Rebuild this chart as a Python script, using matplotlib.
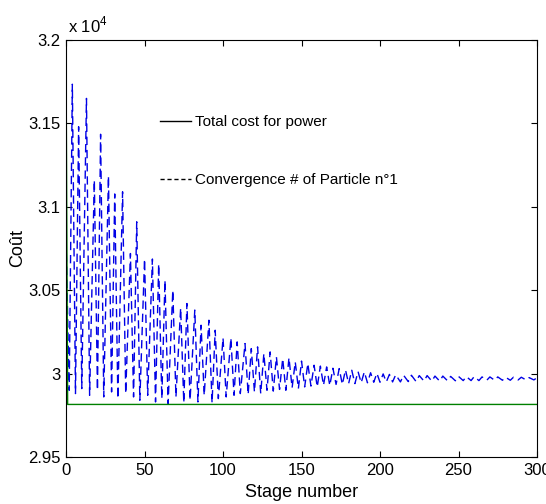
import matplotlib
matplotlib.use("Agg")
import matplotlib.pyplot as plt
from matplotlib.lines import Line2D

# data
# best cost found so far (green line)
best_stage = [0, 1, 300]
best_cost = [31850, 29815, 29815]

# zig-zag of particle n°1: local peaks / troughs (stage, cost)
particle_stage = [
    0, 2, 4, 6, 8, 10, 13, 15, 18, 20, 22, 24, 27, 29, 31, 33, 36, 38, 41, 43,
    45, 47, 50, 52, 55, 57, 59, 61, 63, 65, 68, 70, 73, 75, 77, 79, 82, 84, 86, 88,
    91, 93, 95, 97, 100, 102, 105, 107, 109, 111, 114, 116, 118, 120, 122, 124, 126, 128, 130, 132,
    134, 136, 138, 140, 142, 144, 146, 148, 150, 152, 154, 156, 158, 160, 162, 164, 166, 168, 170, 172,
    174, 176, 178, 180, 182, 184, 186, 188, 190, 192, 194, 196, 198, 200, 202, 204, 206, 208, 210, 213,
    215, 218, 220, 223, 225, 228, 230, 233, 235, 238, 240, 243, 245, 248, 250, 253, 255, 258, 260, 263,
    265, 268, 270, 273, 275, 278, 280, 283, 285, 288, 290, 293, 295, 298, 300,
]
particle_cost = [
    30800, 29900, 31735, 29880, 31480, 29910, 31650, 29870, 31160, 29900,
    31435, 29860, 31185, 29890, 31077, 29850, 31090, 29880, 30720, 29860,
    30910, 29840, 30687, 29870, 30687, 29830, 30657, 29850, 30560, 29820,
    30500, 29860, 30393, 29825, 30420, 29840, 30381, 29830, 30290, 29870,
    30320, 29825, 30260, 29850, 30213, 29860, 30213, 29870, 30190, 29880,
    30180, 29875, 30150, 29890, 30160, 29880, 30120, 29900, 30130, 29895,
    30100, 29905, 30090, 29900, 30095, 29915, 30070, 29910, 30075, 29920,
    30060, 29925, 30050, 29920, 30045, 29930, 30040, 29928, 30032, 29935,
    30030, 29935, 30022, 29940, 30020, 29940, 30012, 29945, 30010, 29945,
    30005, 29948, 30002, 29948, 29998, 29950, 29995, 29950, 29993, 29950,
    29990, 29952, 29990, 29952, 29988, 29955, 29988, 29955, 29985, 29955,
    29985, 29957, 29983, 29957, 29983, 29958, 29982, 29958, 29982, 29958,
    29980, 29960, 29980, 29960, 29980, 29960, 29978, 29960, 29978, 29962,
    29978, 29962, 29976, 29962, 29975,
]

y_ticks = [29500, 30000, 30500, 31000, 31500, 32000]
y_tick_labels = ["2.95", "3", "3.05", "3.1", "3.15", "3.2"]
x_ticks = [0, 50, 100, 150, 200, 250, 300]

plt.rcParams['font.family'] = 'Liberation Sans'
plt.rcParams['lines.scale_dashes'] = False
plt.rcParams['mathtext.fontset'] = 'custom'
plt.rcParams['mathtext.rm'] = 'Liberation Sans'

fig = plt.figure(figsize=(5.46, 5.04), dpi=100)
ax = fig.add_axes([0.121, 0.0933, 0.8625, 0.8273])

ax.plot(particle_stage, particle_cost, color=(0, 0, 0.9), lw=1.0, dashes=(6, 3.5))
ax.plot(best_stage, best_cost, color=(0, 0.5, 0), lw=1.0)

ax.set_xlim(0, 300)
ax.set_ylim(29500, 32000)
ax.set_xticks(x_ticks)
ax.set_yticks(y_ticks)
ax.set_yticklabels(y_tick_labels)
ax.tick_params(direction='in', top=True, right=True, labelsize=12, length=4, pad=4)
for s in ax.spines.values():
    s.set_linewidth(0.8)

ax.set_xlabel('Stage number', fontsize=13, labelpad=5)
ax.set_ylabel('Coût', fontsize=13, labelpad=1)
ax.text(0.004, 1.012, r'x 10$^{4}$', transform=ax.transAxes, fontsize=12,
        ha='left', va='bottom')

# pseudo legend (no frame, black samples)
handles = [Line2D([0], [0], color='black', lw=1.0),
           Line2D([0], [0], color='black', lw=1.0, dashes=(3, 2))]
labels = ['Total cost for power', 'Convergence # of Particle n°1']
ax.legend(handles, labels, loc='upper left', bbox_to_anchor=(0.2, 0.82),
          frameon=False, handlelength=2.0, handletextpad=0.3,
          labelspacing=2.9, borderpad=0, borderaxespad=0,
          prop={'family': 'Liberation Sans', 'size': 11})

fig.savefig('out.png', dpi=100)
